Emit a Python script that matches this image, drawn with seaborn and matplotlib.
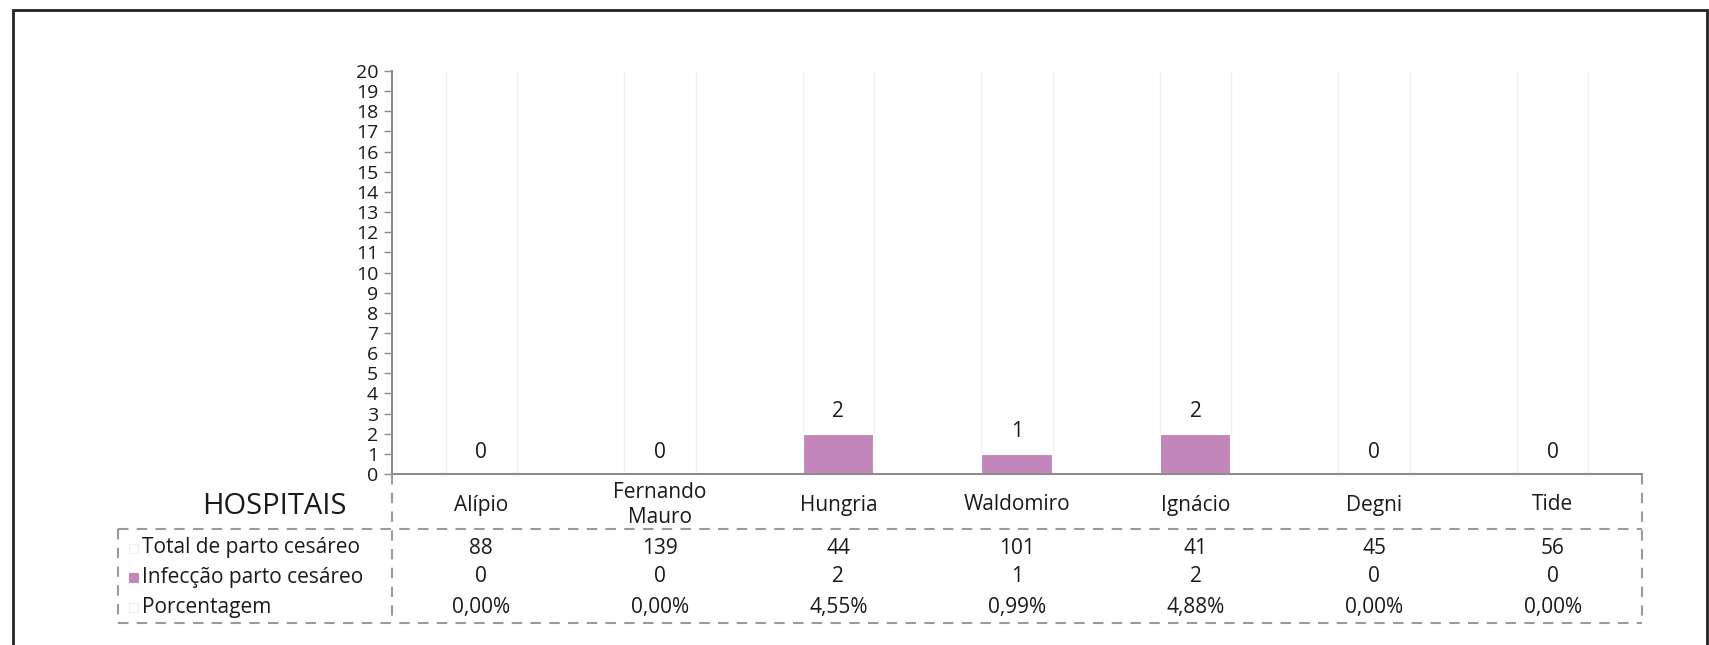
import matplotlib
matplotlib.use("Agg")
import matplotlib.pyplot as plt
import matplotlib.transforms as mtransforms
from matplotlib.patches import Rectangle
from matplotlib.lines import Line2D
import seaborn as sns
import pandas as pd

hospitais = ["Alípio", "Fernando\nMauro", "Hungria", "Waldomiro", "Ignácio", "Degni", "Tide"]
total_parto = [88, 139, 44, 101, 41, 45, 56]
infeccao = [0, 0, 2, 1, 2, 0, 0]
porcentagem = ["0,00%", "0,00%", "4,55%", "0,99%", "4,88%", "0,00%", "0,00%"]
row_labels = ["Total de parto cesáreo", "Infecção parto cesáreo", "Porcentagem"]
yticks = list(range(0, 21))

sns.set_theme(style="white")
plt.rcParams["font.family"] = ["Open Sans", "DejaVu Sans"]

W, H = 1709, 645
fig = plt.figure(figsize=(W / 100, H / 100), dpi=100)
BAR = "#C386BA"
GRAY = "#8c8c8c"
TXT = "#1a1a1a"
FS = 15
FT = 14

def fx(px):
    return px / W

def fy(py):
    return 1 - py / H

ax_left, ax_right, ax_top, ax_bot = 392, 1642, 71, 474
ax = fig.add_axes([fx(ax_left), fy(ax_bot), fx(ax_right - ax_left), (ax_bot - ax_top) / H])

df = pd.DataFrame({"Hospital": hospitais, "Infeccao": infeccao})
sns.barplot(data=df, x="Hospital", y="Infeccao", color=BAR, saturation=1,
            edgecolor="white", linewidth=1.5, width=0.4, ax=ax)

ax.set_ylim(0, 20)
ax.set_xlim(-0.5, len(hospitais) - 0.5)
ax.set_yticks(yticks)
ax.set_yticklabels([str(t) for t in yticks], fontsize=FT, color=TXT)
ax.set_xticks([])
ax.set_xlabel("")
ax.set_ylabel("")
ax.tick_params(axis="y", which="both", left=True, length=6, width=1, color=GRAY, pad=4)
for s in ["top", "right"]:
    ax.spines[s].set_visible(False)
for s in ["left", "bottom"]:
    ax.spines[s].set_color(GRAY)
    ax.spines[s].set_linewidth(1.5)

# faint lines at bar edges
for i in range(len(hospitais)):
    for dx in (-0.2, 0.2):
        ax.axvline(i + dx, color="#f0f0f0", lw=1, zorder=0)

# value labels
for i, v in enumerate(infeccao):
    ax.annotate(str(v), (i, v), xytext=(0, 22), textcoords="offset pixels",
                ha="center", va="center", fontsize=FS, color=TXT)

# table
row_y = [548, 577, 607]
tr = mtransforms.blended_transform_factory(ax.transData, fig.transFigure)
for i, h in enumerate(hospitais):
    ax.text(i, fy(505), h, transform=tr, ha="center", va="center", fontsize=FS,
            color=TXT, linespacing=1.25, clip_on=False)
    ax.text(i, fy(row_y[0]), str(total_parto[i]), transform=tr, ha="center", va="center",
            fontsize=FS, color=TXT, clip_on=False)
    ax.text(i, fy(row_y[1]), str(infeccao[i]), transform=tr, ha="center", va="center",
            fontsize=FS, color=TXT, clip_on=False)
    ax.text(i, fy(row_y[2]), porcentagem[i], transform=tr, ha="center", va="center",
            fontsize=FS, color=TXT, clip_on=False)

fig.text(fx(274), fy(506), "HOSPITAIS", ha="center", va="center", fontsize=21, color=TXT)

key_colors = ["white", BAR, "white"]
key_edges = ["#eeeeee", BAR, "#eeeeee"]
for lbl, yy, kc, ke in zip(row_labels, row_y, key_colors, key_edges):
    fig.patches.append(Rectangle((fx(129), fy(yy + 5)), fx(9), 9 / H, transform=fig.transFigure,
                                 facecolor=kc, edgecolor=ke, lw=0.8))
    fig.text(fx(142), fy(yy), lbl, ha="left", va="center", fontsize=FS, color=TXT)

dash = dict(color="#9a9a9a", lw=1.5, ls=(0, (5, 4)), transform=fig.transFigure)
lines = [
    ([118, 1642], [529, 529]),
    ([118, 1642], [623, 623]),
    ([118, 118], [529, 623]),
    ([392, 392], [474, 623]),
    ([1642, 1642], [474, 623]),
]
for xs, ys in lines:
    fig.lines.append(Line2D([fx(x) for x in xs], [fy(y) for y in ys], **dash))

# outer frame
fig.patches.append(Rectangle((fx(13), fy(700)), fx(1694), 690 / H, transform=fig.transFigure,
                             facecolor="none", edgecolor="#222222", lw=2))

fig.savefig("out.png", dpi=100)
